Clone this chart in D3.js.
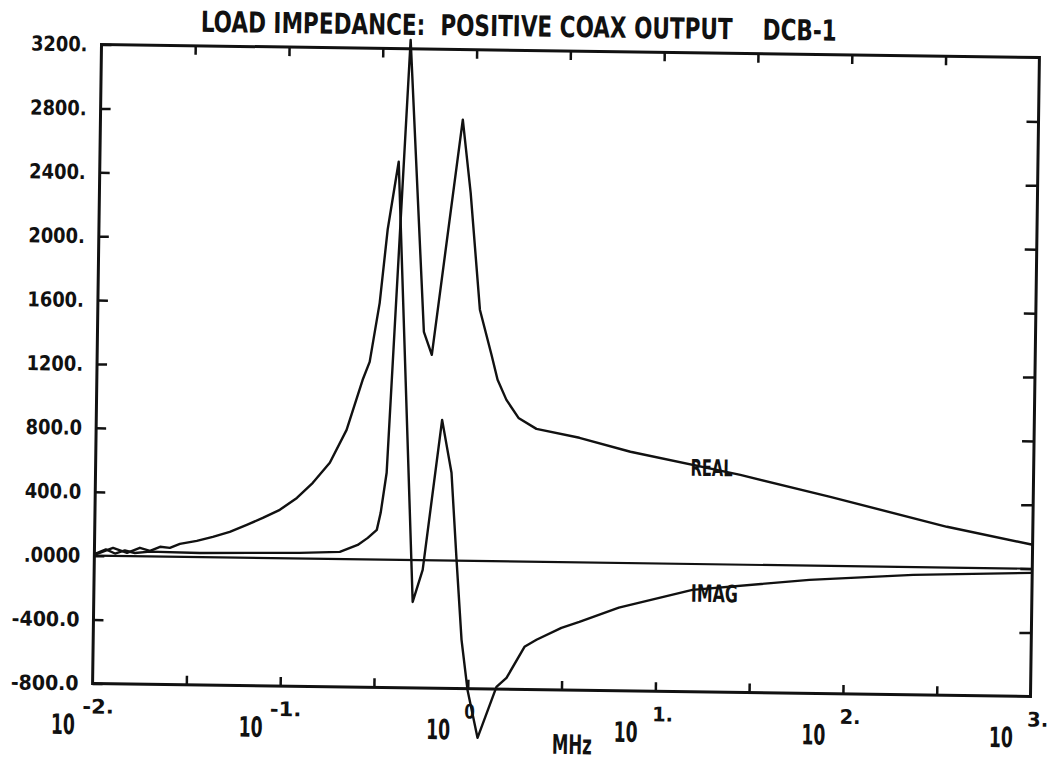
<!DOCTYPE html>
<html><head><meta charset="utf-8">
<script src="https://cdn.jsdelivr.net/npm/d3@7"></script>
<style>
html,body{margin:0;padding:0;background:#fff;}
text{font-family:"DejaVu Sans Condensed","DejaVu Sans",sans-serif;font-weight:bold;fill:#111;}
</style>
</head><body>
<svg id="c" width="1049" height="763"></svg>
<script>
// ---- data (frequency in MHz, impedance in ohms) ----
const realFreq = [0.01,0.01151,0.01288,0.01452,0.01644,0.01977,0.03648,0.06738,0.1245,0.2032,0.2528,0.2858,0.3188,0.3333,0.3562,0.4441,0.5491,0.6077,0.8539,0.9522,1.088,1.264,1.368,1.530,1.780,2.222,3.773,7.069,27.35,82.8,348.5,1000];
const realVal  = [10,40,15,35,20,30,26,31,35,45,90,135,186,293,544,3256,1430,1286,2761,2304,1573,1292,1136,1011,899,832,780,697,562,432,255,150];
const imagFreq = [0.01,0.01256,0.01493,0.01746,0.01977,0.02237,0.02523,0.02851,0.03508,0.04266,0.05248,0.06457,0.07852,0.09661,0.1189,0.1442,0.1770,0.2163,0.2612,0.2838,0.3177,0.3459,0.3741,0.3917,0.5012,0.5636,0.6974,0.7896,0.8526,0.9190,0.9975,1.137,1.422,1.606,1.992,2.305,3.124,3.890,6.3,15.49,65.0,232.3,1000];
const imagVal  = [5,50,20,53,34,61,55,81,101,128,161,206,251,303,379,475,602,809,1124,1237,1607,2065,2335,2492,-262,-60,880,550,5,-495,-808,-1107,-786,-729,-533,-488,-411,-372,-280,-162,-89,-49,-26];
const yTicks = [-800,-400,0,400,800,1200,1600,2000,2400,2800,3200];
const yTickLabels = ["-800.0","-400.0",".0000","400.0","800.0","1200.","1600.","2000.","2400.","2800.","3200."];
const xDecades = [0.01,0.1,1,10,100,1000];
const xExpLabels = ["-2.","-1.","0","1.","2.","3."];
const xMinorTicks = [0.0316,0.1,0.316,1,3.16,10,31.6,100,316.2];
const titleText = "LOAD IMPEDANCE:  POSITIVE COAX OUTPUT    DCB-1";

const svg = d3.select("#c");
const g = svg.append("g").attr("transform","rotate(0.8,566,370)");

const x = d3.scaleLog().domain([0.01,1000]).range([97,1035]);
const y = d3.scaleLinear().domain([-800,3200]).range([690,51]);

const ink = "#111";

function styleAxis(sel){
  sel.select(".domain").remove();
  sel.selectAll(".tick line").attr("stroke",ink).attr("stroke-width",2.5);
}
const gl = g.append("g").attr("transform","translate(97,0)")
  .call(d3.axisLeft(y).tickValues(yTicks).tickSize(-10).tickPadding(14)
        .tickFormat((d,i)=>yTickLabels[i]));
styleAxis(gl);
gl.attr("font-size",null).attr("font-family",null);
gl.selectAll(".tick text").attr("font-size",20.5).attr("fill",ink)
  .attr("textLength",function(){return this.textContent.length*11.3;})
  .attr("lengthAdjust","spacingAndGlyphs");

const gr = g.append("g").attr("transform","translate(1035,0)")
  .call(d3.axisRight(y).tickValues(yTicks.slice(1,-1)).tickSize(-12).tickFormat(""));
styleAxis(gr);

const gb = g.append("g").attr("transform","translate(0,690)")
  .call(d3.axisBottom(x).tickValues(xMinorTicks).tickSize(-9).tickFormat(""));
styleAxis(gb);
const gt = g.append("g").attr("transform","translate(0,51)")
  .call(d3.axisTop(x).tickValues(xMinorTicks).tickSize(-9).tickFormat(""));
styleAxis(gt);

// frame
g.append("rect").attr("x",97).attr("y",51).attr("width",1035-97).attr("height",690-51)
  .attr("fill","none").attr("stroke",ink).attr("stroke-width",3);

// zero line
g.append("line").attr("x1",x(0.01)).attr("x2",x(1000)).attr("y1",y(0)).attr("y2",y(0))
  .attr("stroke",ink).attr("stroke-width",2.2);

// x tick labels: 10 with exponent
xDecades.forEach((d,i)=>{
  const px = x(d);
  g.append("text").attr("x",px-17).attr("y",741).attr("text-anchor","end")
    .attr("font-size",28).attr("textLength",24).attr("lengthAdjust","spacingAndGlyphs").text("10");
  const neg = xExpLabels[i].startsWith("-");
  g.append("text").attr("x",px-(neg?10:3)).attr("y",720).attr("text-anchor","start")
    .attr("font-size",20).attr("textLength",xExpLabels[i].length*10.5).attr("lengthAdjust","spacingAndGlyphs")
    .text(xExpLabels[i]);
});

// curves
const line = d3.line().x(d=>x(d[0])).y(d=>y(d[1]));
g.append("path").datum(realFreq.map((f,i)=>[f,realVal[i]]))
  .attr("d",line).attr("fill","none").attr("stroke",ink).attr("stroke-width",2.4).attr("stroke-linejoin","round");
g.append("path").datum(imagFreq.map((f,i)=>[f,imagVal[i]]))
  .attr("d",line).attr("fill","none").attr("stroke",ink).attr("stroke-width",2.4).attr("stroke-linejoin","round");

// labels
g.append("text").attr("x",692).attr("y",474).attr("font-size",23).attr("textLength",42)
  .attr("lengthAdjust","spacingAndGlyphs").text("REAL");
g.append("text").attr("x",694).attr("y",600).attr("font-size",24).attr("textLength",47)
  .attr("lengthAdjust","spacingAndGlyphs").text("IMAG");
g.append("text").attr("x",557).attr("y",754).attr("font-size",27).attr("textLength",40)
  .attr("lengthAdjust","spacingAndGlyphs").text("MHz");
g.append("text").attr("x",196).attr("y",37).attr("font-size",29).attr("textLength",636)
  .attr("lengthAdjust","spacingAndGlyphs").attr("xml:space","preserve").style("white-space","pre").text(titleText);
</script>
</body></html>
